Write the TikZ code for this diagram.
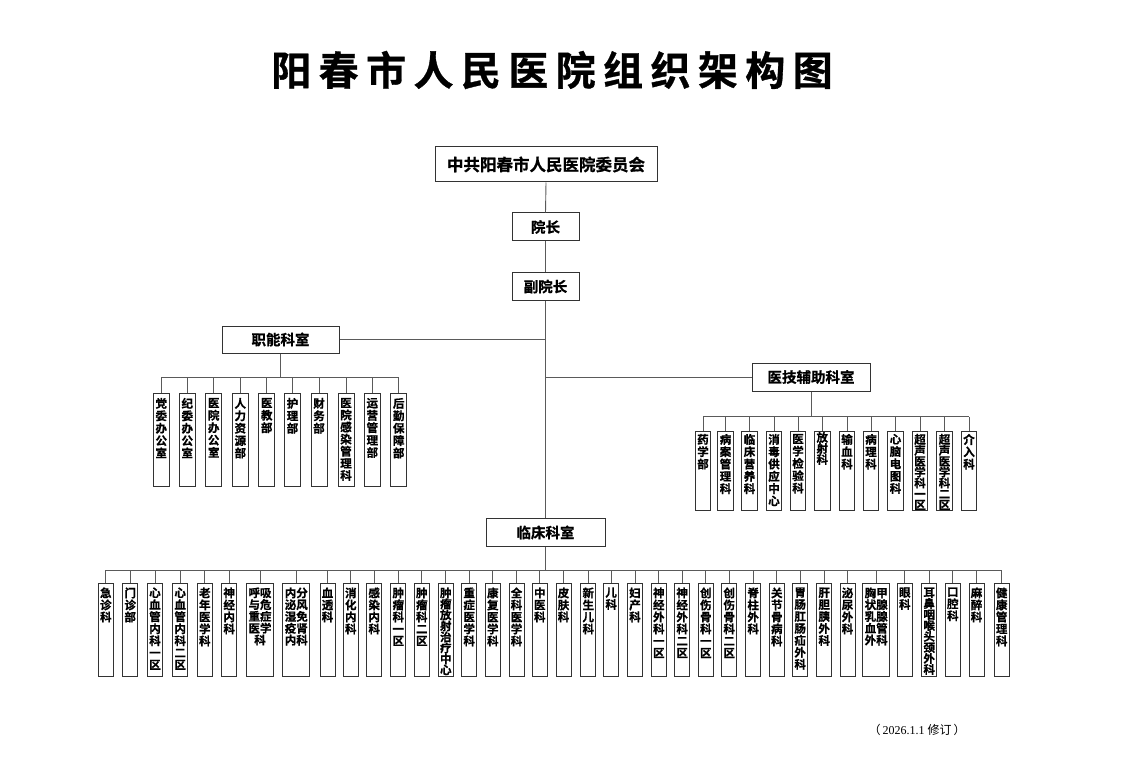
\documentclass[tikz,border=0pt]{standalone}
\usepackage{fontspec}
\newfontfamily\cjk{Noto Sans CJK SC}
\newfontfamily\cjkb{Noto Sans CJK SC Bold}
\newfontfamily\cjkh{Noto Sans CJK SC Bold}[FakeBold=0.8]
\newfontfamily\serifl{Liberation Serif}
\definecolor{boxc}{HTML}{333333}
\definecolor{linec}{HTML}{5A5A5A}
\let\vtend\relax
\def\vtendm{\vtend}
\newdimen\vtw
\newdimen\vtgap
\def\vtloop#1{\def\vtarg{#1}\ifx\vtarg\vtendm\else\hbox to\vtw{\hss#1\hss}\expandafter\vtloop\fi}
\newcommand\vcol[4][12pt]{\vtw=#2\relax\vbox to #3{\hsize=#2\relax\baselineskip=#1\relax\lineskiplimit=-20pt\lineskip=0pt\vskip\vtgap\vtloop#4\vtend\vss}}
\newcommand\zn[2][12.4pt]{\vtgap=4.5pt\relax\vcol[#1]{16pt}{93pt}{#2}}
\newcommand\yj[2][12.3pt]{\vtgap=2.5pt\relax\vcol[#1]{15.7pt}{79pt}{#2}}
\newcommand\lc[2][12pt]{\vtgap=4pt\relax\vcol[#1]{15pt}{93pt}{#2}}
\newcommand\lcd[2][11.8pt]{\vtgap=4pt\relax\vcol[#1]{27pt}{93pt}{#2}}
\def\tsp{\hskip 7.4pt}
\tikzset{
  unit/.style={draw=boxc, line width=1pt, inner sep=0pt, anchor=north, font=\cjkh\fontsize{11.5}{12}\selectfont},
  mainbox/.style={draw=boxc, line width=1pt, inner sep=0pt, font=\cjkh\fontsize{14.5}{16}\selectfont},
  conn/.style={draw=linec, line width=0.9pt},
}
\begin{document}
\begin{tikzpicture}[x=1pt,y=-1pt]
\useasboundingbox (0,0) rectangle (1129,759);
\node[font=\cjkh\fontsize{40}{41}\selectfont] (title) at (552,70) {阳\tsp 春\tsp 市\tsp 人\tsp 民\tsp 医\tsp 院\tsp 组\tsp 织\tsp 架\tsp 构\tsp 图};
% top chain
\node[mainbox, minimum width=222pt, minimum height=35pt, font=\cjkh\fontsize{16.5}{18}\selectfont] (wyh) at (546,164.5) {中共阳春市人民医院委员会};
\node[mainbox, minimum width=67pt, minimum height=28pt] (yz) at (545.5,227) {院长};
\node[mainbox, minimum width=67pt, minimum height=27.5pt] (fyz) at (545.5,286.5) {副院长};
\node[mainbox, minimum width=117pt, minimum height=27pt] (zhineng) at (280.5,339.5) {职能科室};
\node[mainbox, minimum width=118pt, minimum height=28pt] (yiji) at (811,377) {医技辅助科室};
\node[mainbox, minimum width=119pt, minimum height=28.5pt] (linchuang) at (545.5,532.5) {临床科室};
\draw[conn] (wyh.south) -- (yz.north);
\draw[conn] (yz.south) -- (fyz.north);
\draw[conn] (fyz.south) -- (linchuang.north);
\draw[conn] (zhineng.east) -- (zhineng.east -| fyz.south);
\draw[conn] (yiji.west) -- (yiji.west -| fyz.south);
% functional departments
\coordinate (zb) at (0,377);
\node[unit] (z1) at (161.3,393) {\zn{党委办公室}};
\node[unit] (z2) at (187.3,393) {\zn{纪委办公室}};
\node[unit] (z3) at (213.7,393) {\zn{医院办公室}};
\node[unit] (z4) at (240.3,393) {\zn{人力资源部}};
\node[unit] (z5) at (266.7,393) {\zn{医教部}};
\node[unit] (z6) at (292.5,393) {\zn{护理部}};
\node[unit] (z7) at (319,393) {\zn{财务部}};
\node[unit] (z8) at (346,393) {\zn[12.1pt]{医院感染管理科}};
\node[unit] (z9) at (372.3,393) {\zn{运营管理部}};
\node[unit] (z10) at (398.7,393) {\zn{后勤保障部}};
\draw[conn] (zhineng.south) -- (zhineng.south |- zb);
\draw[conn] (z1.north |- zb) -- (z10.north |- zb);
\foreach \n in {z1,z2,z3,z4,z5,z6,z7,z8,z9,z10} \draw[conn] (\n.north) -- (\n.north |- zb);
% medical technology departments
\coordinate (yb) at (0,416.5);
\node[unit] (y1) at (703,431) {\yj{药学部}};
\node[unit] (y2) at (725.5,431) {\yj{病案管理科}};
\node[unit] (y3) at (749.5,431) {\yj{临床营养科}};
\node[unit] (y4) at (774,431) {\yj{消毒供应中心}};
\node[unit] (y5) at (798,431) {\yj{医学检验科}};
\node[unit] (y6) at (822.3,431) {\vtgap=0.5pt\relax\vcol[11pt]{15.7pt}{79pt}{放射科}};
\node[unit] (y7) at (847,431) {\yj{输血科}};
\node[unit] (y8) at (871,431) {\yj{病理科}};
\node[unit] (y9) at (895.5,431) {\yj{心脑电图科}};
\node[unit] (y10) at (920,431) {\yj[10.9pt]{超声医学科一区}};
\node[unit] (y11) at (944.5,431) {\yj[10.9pt]{超声医学科二区}};
\node[unit] (y12) at (969,431) {\yj{介入科}};
\draw[conn] (yiji.south) -- (yiji.south |- yb);
\draw[conn] (y1.north |- yb) -- (y12.north |- yb);
\foreach \n in {y1,y2,y3,y4,y5,y6,y7,y8,y9,y10,y11,y12} \draw[conn] (\n.north) -- (\n.north |- yb);
% clinical departments
\coordinate (lb) at (0,570);
\node[unit] (c1) at (105.8,583) {\lc{急诊科}};
\node[unit] (c2) at (130.2,583) {\lc{门诊部}};
\node[unit] (c3) at (155,583) {\lc{心血管内科一区}};
\node[unit] (c4) at (180.2,583) {\lc{心血管内科二区}};
\node[unit] (c5) at (204.8,583) {\lc{老年医学科}};
\node[unit] (c6) at (229.2,583) {\lc{神经内科}};
\node[unit] (c7) at (260,583) {\lcd{{呼吸}{与危}{重症}{医学}{科}}};
\node[unit] (c8) at (296.3,583) {\lcd{{内分}{泌风}{湿免}{疫肾}{内科}}};
\node[unit] (c9) at (327.5,583) {\lc{血透科}};
\node[unit] (c10) at (350.8,583) {\lc{消化内科}};
\node[unit] (c11) at (374.2,583) {\lc{感染内科}};
\node[unit] (c12) at (398.3,583) {\lc{肿瘤科一区}};
\node[unit] (c13) at (421.8,583) {\lc{肿瘤科二区}};
\node[unit] (c14) at (445.8,583) {\lc[11pt]{肿瘤放射治疗中心}};
\node[unit] (c15) at (469.2,583) {\lc{重症医学科}};
\node[unit] (c16) at (492.8,583) {\lc{康复医学科}};
\node[unit] (c17) at (516.5,583) {\lc{全科医学科}};
\node[unit] (c18) at (539.8,583) {\lc{中医科}};
\node[unit] (c19) at (563.5,583) {\lc{皮肤科}};
\node[unit] (c20) at (588.3,583) {\lc{新生儿科}};
\node[unit] (c21) at (611.2,583) {\lc{儿科}};
\node[unit] (c22) at (635,583) {\lc{妇产科}};
\node[unit] (c23) at (658.8,583) {\lc{神经外科一区}};
\node[unit] (c24) at (682.2,583) {\lc{神经外科二区}};
\node[unit] (c25) at (705.8,583) {\lc{创伤骨科一区}};
\node[unit] (c26) at (729.2,583) {\lc{创伤骨科二区}};
\node[unit] (c27) at (753.2,583) {\lc{脊柱外科}};
\node[unit] (c28) at (776.8,583) {\lc{关节骨病科}};
\node[unit] (c29) at (800.2,583) {\lc{胃肠肛肠疝外科}};
\node[unit] (c30) at (824.2,583) {\lc{肝胆胰外科}};
\node[unit] (c31) at (847.5,583) {\lc{泌尿外科}};
\node[unit] (c32) at (876.2,583) {\lcd{{胸甲}{状腺}{乳腺}{血管}{外科}}};
\node[unit] (c33) at (904.8,583) {\lc{眼科}};
\node[unit] (c34) at (929.2,583) {\lc[11pt]{耳鼻咽喉头颈外科}};
\node[unit] (c35) at (952.8,583) {\lc{口腔科}};
\node[unit] (c36) at (976.5,583) {\lc{麻醉科}};
\node[unit] (c37) at (1001.7,583) {\lc{健康管理科}};
\draw[conn] (linchuang.south) -- (linchuang.south |- lb);
\draw[conn] (c1.north |- lb) -- (c37.north |- lb);
\foreach \n in {c1,c2,c3,c4,c5,c6,c7,c8,c9,c10,c11,c12,c13,c14,c15,c16,c17,c18,c19,c20,c21,c22,c23,c24,c25,c26,c27,c28,c29,c30,c31,c32,c33,c34,c35,c36,c37} \draw[conn] (\n.north) -- (\n.north |- lb);
% footer
\node[font=\fontsize{12}{14}\selectfont, inner sep=0pt] (foot) at (917,730) {{\cjk （}\hskip2pt{\serifl 2026.1.1 }{\cjk 修订}\hskip2pt{\cjk ）}};
\end{tikzpicture}
\end{document}
